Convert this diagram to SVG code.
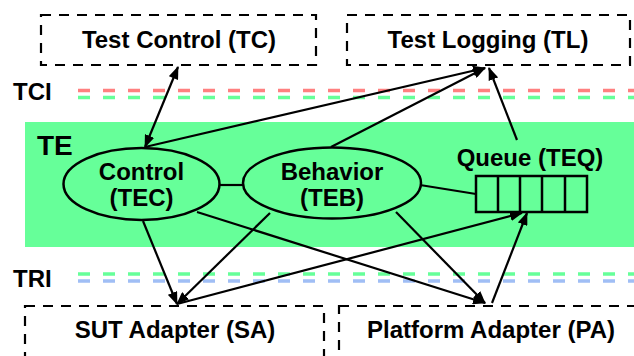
<svg xmlns="http://www.w3.org/2000/svg" width="634" height="356" viewBox="0 0 634 356">
<defs>
<style>
text{font-family:"Liberation Sans",Arial,sans-serif;font-weight:bold;fill:#000;}
.t{font-size:24px;text-anchor:middle;}
.box{fill:none;stroke:#000;stroke-width:2.2;stroke-dasharray:10 8;}
.if{fill:none;stroke-width:3.5;stroke-dasharray:12 13;}
.ell{fill:#66ff99;stroke:#000;stroke-width:2.5;}
.c{stroke:#000;stroke-width:2.2;fill:none;}
.a{marker-end:url(#ah);}
.b{marker-start:url(#ahs);marker-end:url(#ah);}
</style>
<marker id="ah" markerUnits="userSpaceOnUse" markerWidth="14" markerHeight="10" refX="12" refY="5" orient="auto">
<path d="M0,0 L13,5 L0,10 Z" fill="#000"/>
</marker>
<marker id="ahs" markerUnits="userSpaceOnUse" markerWidth="14" markerHeight="10" refX="1" refY="5" orient="auto">
<path d="M13,0 L0,5 L13,10 Z" fill="#000"/>
</marker>
</defs>
<rect width="634" height="356" fill="#fff"/>
<g id="TC">
<rect class="box" x="41" y="15" width="275" height="50"/>
<text class="t" x="179" y="48">Test Control (TC)</text>
</g>
<g id="TL">
<rect class="box" x="347" y="15" width="283" height="50"/>
<text class="t" x="488" y="48">Test Logging (TL)</text>
</g>
<g id="TCI">
<text x="13" y="100" style="font-size:24px">TCI</text>
<line class="if" x1="78" y1="90.5" x2="634" y2="90.5" stroke="#ff8080"/>
<line class="if" x1="78" y1="97.5" x2="634" y2="97.5" stroke="#66ff99"/>
</g>
<g id="TE">
<rect x="25" y="122" width="609" height="125" fill="#66ff99"/>
<text x="37" y="155" style="font-size:28px">TE</text>
</g>
<g id="TRI">
<text x="13" y="287" style="font-size:24px">TRI</text>
<line class="if" x1="78" y1="274" x2="634" y2="274" stroke="#66ff99"/>
<line class="if" x1="78" y1="281" x2="634" y2="281" stroke="#a0bef5"/>
</g>
<g id="SA">
<rect class="box" x="25" y="306" width="299" height="80"/>
<text class="t" x="175" y="338">SUT Adapter (SA)</text>
</g>
<g id="PA">
<rect class="box" x="339" y="306" width="320" height="80"/>
<text class="t" x="491" y="338">Platform Adapter (PA)</text>
</g>
<g id="connectors">
<line class="c b" x1="178" y1="67" x2="145" y2="147"/>
<line class="c a" x1="145" y1="147" x2="485" y2="68"/>
<line class="c a" x1="331" y1="147" x2="485" y2="68"/>
<line class="c a" x1="517" y1="140" x2="489" y2="68"/>
<line class="c a" x1="143" y1="221" x2="177" y2="304"/>
<line class="c a" x1="270" y1="213" x2="177" y2="304"/>
<line class="c a" x1="177" y1="304" x2="522" y2="213"/>
<line class="c a" x1="197" y1="212" x2="485" y2="303"/>
<line class="c a" x1="396" y1="212" x2="485" y2="303"/>
<line class="c a" x1="492" y1="303" x2="527" y2="213"/>
<line class="c" x1="219" y1="185" x2="244" y2="185"/>
<line class="c" x1="420" y1="185" x2="476" y2="194"/>
</g>
<g id="TEC">
<ellipse class="ell" cx="141.5" cy="184" rx="78" ry="36"/>
<text class="t" x="141.5" y="180">Control</text>
<text class="t" x="141.5" y="206">(TEC)</text>
</g>
<g id="TEB">
<ellipse class="ell" cx="332" cy="183" rx="89" ry="35.5"/>
<text class="t" x="332" y="180">Behavior</text>
<text class="t" x="332" y="206">(TEB)</text>
</g>
<g id="TEQ">
<text class="t" x="530" y="166">Queue (TEQ)</text>
<rect x="476" y="176" width="111" height="36" fill="#66ff99" stroke="#000" stroke-width="2.5"/>
<path d="M498,176V212M520,176V212M542,176V212M565,176V212" stroke="#000" stroke-width="2.5"/>
</g>
</svg>
